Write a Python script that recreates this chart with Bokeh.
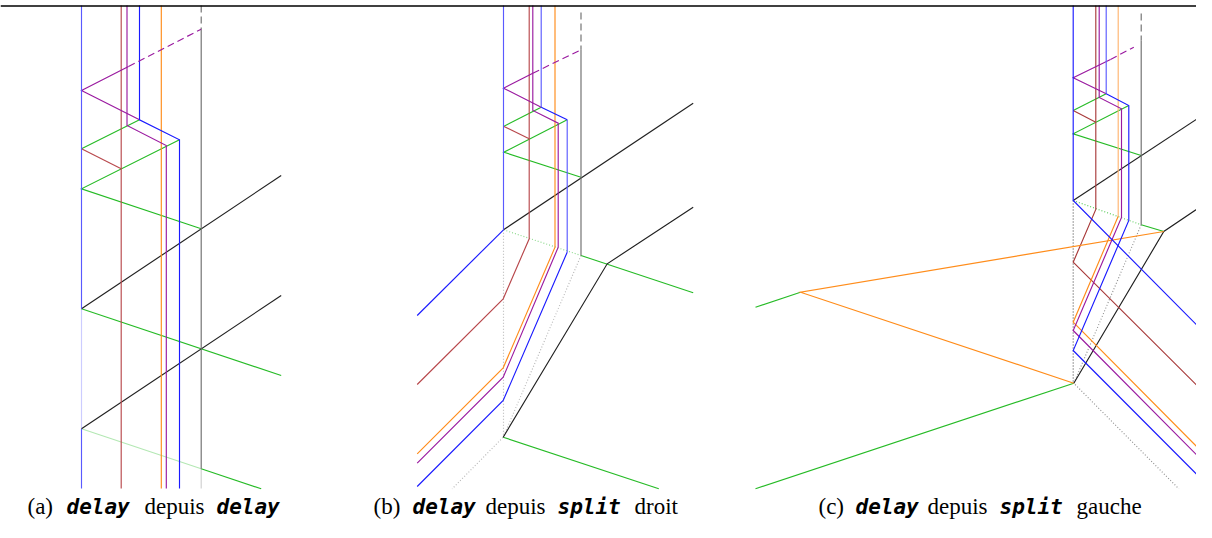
from bokeh.plotting import figure
from bokeh.models import Range1d
from bokeh.embed import file_html
from bokeh.resources import INLINE
from bokeh.core.properties import value

# ---------------- data: polylines (page pixel coordinates) ----------------
TOP_LINE_X = [0, 1212]
TOP_LINE_Y = [5.5, 5.5]

# ---- panel (a): delay depuis delay
A_BLUE_L = [[(81, 5), (81, 308.3)], [(81, 428.3), (81, 488)]]
A_BLUE_XL = [[(81, 308.3), (81, 428.3)]]
A_BLUE = [[(139, 5), (139, 119.3), (179, 139.3), (179, 488)]]
A_BROWN = [[(120.7, 5), (120.7, 488)], [(81, 148.3), (120.7, 168.3)]]
A_PURPLE = [[(126.5, 5), (126.5, 125), (165.8, 145), (165.8, 488)],
            [(139, 119.3), (81, 90), (128, 66)]]
A_PURPLE_DASH = [[(128, 66), (200.7, 28.7)]]
A_ORANGE = [[(160.8, 5), (160.8, 488)]]
A_GRAY_DASH = [[(200.7, 5), (200.7, 28.7)]]
A_GRAY = [[(200.7, 28.7), (200.7, 468.3)]]
A_GRAY_L = [[(200.7, 468.3), (200.7, 488)]]
A_GREEN = [[(81, 148.3), (139, 119.3)],
           [(179, 139.3), (81, 188.3), (200.7, 228.3)],
           [(81, 308.3), (280.7, 375)],
           [(200.7, 468.3), (260.7, 488.3)]]
A_GREEN_L = [[(81, 428.3), (200.7, 468.3)]]
A_BLACK = [[(81, 308.3), (280.7, 175)], [(81, 428.3), (280.7, 295)]]

# ---- panel (b): delay depuis split droit
B_BLUE_L = [[(503, 5), (503, 229.3)], [(540.7, 5), (540.7, 106.7)],
            [(566.7, 119.3), (566.7, 251.7)]]
B_BLUE = [[(540.7, 106.7), (566.7, 119.3)], [(503, 229.3), (416.7, 315)],
          [(566.7, 251.7), (502.7, 400), (416.7, 486)]]
B_BROWN = [[(528.7, 5), (528.7, 238.3), (502.7, 298.3), (416.7, 384)],
           [(503, 125.7), (528.7, 138.3)]]
B_PURPLE = [[(532.3, 5), (532.3, 110), (557.7, 122.7), (557.7, 246.7), (502.7, 376.7), (416.7, 462.7)],
            [(540.7, 106.7), (503, 87.7), (532.3, 72.7)]]
B_PURPLE_DASH = [[(532.3, 72.7), (580.5, 49.3)]]
B_ORANGE = [[(554.5, 5), (554.5, 246.7), (502.7, 367.3), (416.7, 453.3)]]
B_GRAY_DASH = [[(580.5, 12), (580.5, 49.3)]]
B_GRAY = [[(580.5, 49.3), (580.5, 255)]]
B_GRAY_DOT = [[(580.5, 255), (502.7, 436.7), (451.7, 488.3)], [(503, 229.3), (503, 436.7)]]
B_GREEN = [[(503, 126), (540.7, 106.7)],
           [(566.7, 119.3), (503.3, 151.7), (580.5, 176.7)],
           [(580.5, 255), (692.7, 292.3)],
           [(502.7, 436.7), (658.3, 488.3)]]
B_GREEN_DOT = [[(503, 229.3), (580.5, 255)]]
B_BLACK = [[(503, 229.3), (692.7, 102.7)],
           [(692.7, 206.7), (606.7, 263.3), (502.7, 436.7)]]

# ---- panel (c): delay depuis split gauche
C_BLUE = [[(1072.7, 5), (1072.7, 200), (1208.3, 336.7)],
          [(1105.7, 93.3), (1128.3, 105), (1128.3, 220), (1072.7, 350), (1208.3, 486)]]
C_BLUE_L = [[(1105.7, 5), (1105.7, 93.3)]]
C_BROWN = [[(1095.3, 5), (1095.3, 209), (1072.7, 261.7), (1208.3, 396.7)],
           [(1072.7, 110), (1095.3, 121.7)]]
C_PURPLE = [[(1098.7, 5), (1098.7, 97), (1121, 108.3), (1121, 217), (1072.7, 330), (1208.3, 466.7)],
            [(1105.7, 93.3), (1072.7, 77.3), (1110, 59)]]
C_PURPLE_DASH = [[(1110, 59), (1133.3, 46.7)]]
C_ORANGE_L = [[(1117.7, 5), (1117.7, 215.7)]]
C_ORANGE = [[(1117.7, 215.7), (1072.7, 321.7), (1208.3, 458.3)],
            [(1163.3, 231), (800, 291.7), (1073.3, 382.7)]]
C_GRAY_DASH = [[(1140.7, 13), (1140.7, 40)]]
C_GRAY = [[(1140.7, 40), (1140.7, 224.3)]]
C_GRAY_DOT = [[(1140.7, 224.3), (1073.3, 382.7), (1178.3, 488.3)]]
C_DARK_DOT = [[(1072.7, 200), (1072.7, 382.7)]]
C_GREEN = [[(1072.7, 110), (1105.7, 93.3)],
           [(1128.3, 105), (1072.7, 133.3), (1140.7, 155)],
           [(1140.7, 224.3), (1163.3, 231)],
           [(755, 306.7), (800, 291.7)],
           [(1073.3, 382.7), (755, 488.3)]]
C_GREEN_DOT = [[(1072.7, 200), (1140.7, 224.3)]]
C_BLACK = [[(1072.7, 200), (1209.3, 110)],
           [(1209.3, 200), (1163.3, 231), (1073.3, 382.7)]]

# ---- captions
CAP_TEXT = ["(a)", "delay", "depuis", "delay",
            "(b)", "delay", "depuis", "split", "droit",
            "(c)", "delay", "depuis", "split", "gauche"]
CAP_X = [27, 66, 144, 216,
         373, 412, 485, 557, 634,
         818, 855, 927, 999, 1076]
CAP_MONO = [False, True, False, True,
            False, True, False, True, False,
            False, True, False, True, False]
CAP_Y = 506

# ---------------- figure ----------------
W, H = 1196, 522
p = figure(width=W, height=H, output_backend="svg", toolbar_location=None,
           x_range=Range1d(0, W), y_range=Range1d(H, 0),
           x_axis_location=None, y_axis_location=None, min_border=0)
p.grid.visible = False
p.outline_line_color = None
p.background_fill_color = "white"
p.border_fill_color = "white"


def draw(segs, color, dash="solid", alpha=1.0, width=1.15):
    xs = [[pt[0] for pt in s] for s in segs]
    ys = [[pt[1] for pt in s] for s in segs]
    p.multi_line(xs, ys, line_color=color, line_dash=dash, line_alpha=alpha,
                 line_width=width, line_join="miter")


BLUE = "#1a1aff"
BLUE_L = "#5a5aff"
BLUE_XL = "#ccccff"
BROWN = "#b8484c"
PURPLE = "#9a1aa0"
ORANGE = "#ff8c1a"
ORANGE_L = "#ffb570"
GRAY = "#6e6e6e"
GRAY_L = "#d0d0d0"
GREEN = "#26bb26"
GREEN_L = "#b4e8b4"
BLACK = "#202020"

# faint / dotted first
draw(A_BLUE_XL, BLUE_XL)
draw(A_GREEN_L, GREEN_L)
draw(A_GRAY_L, GRAY_L)
draw(B_GRAY_DOT, "#b8b8b8", "1 2")
draw(B_GREEN_DOT, "#8ad88a", "1 2")
draw(C_GRAY_DOT, "#909090", "1 2")
draw(C_DARK_DOT, "#505050", "1 2")
draw(C_GREEN_DOT, "#5ccc5c", "1 2")

for segs, col in [(A_GREEN, GREEN), (B_GREEN, GREEN), (C_GREEN, GREEN),
                  (A_BLACK, BLACK), (B_BLACK, BLACK), (C_BLACK, BLACK),
                  (A_GRAY, GRAY), (B_GRAY, GRAY), (C_GRAY, GRAY),
                  (A_BROWN, BROWN), (B_BROWN, BROWN), (C_BROWN, "#a83a3a"),
                  (A_ORANGE, ORANGE), (B_ORANGE, ORANGE), (C_ORANGE, ORANGE),
                  (C_ORANGE_L, ORANGE_L),
                  (A_PURPLE, PURPLE), (B_PURPLE, PURPLE), (C_PURPLE, PURPLE),
                  (A_BLUE_L, BLUE_L), (B_BLUE_L, BLUE_L), (C_BLUE_L, BLUE_L),
                  (A_BLUE, BLUE), (B_BLUE, BLUE), (C_BLUE, BLUE)]:
    draw(segs, col)

for segs in (A_PURPLE_DASH, B_PURPLE_DASH, C_PURPLE_DASH):
    draw(segs, PURPLE, "7 4")
for segs in (A_GRAY_DASH, B_GRAY_DASH, C_GRAY_DASH):
    draw(segs, GRAY, "7 4")

p.line(TOP_LINE_X, TOP_LINE_Y, line_color="black", line_width=1.3)

mono_idx = [i for i, m in enumerate(CAP_MONO) if m]
serif_idx = [i for i, m in enumerate(CAP_MONO) if not m]
p.text(x=[CAP_X[i] for i in serif_idx], y=[CAP_Y] * len(serif_idx),
       text=[CAP_TEXT[i] for i in serif_idx],
       text_font=value("Liberation Serif"), text_font_size="23px",
       text_baseline="middle", text_align="left", text_color="black")
p.text(x=[CAP_X[i] for i in mono_idx], y=[CAP_Y] * len(mono_idx),
       text=[CAP_TEXT[i] for i in mono_idx],
       text_font=value("DejaVu Sans Mono"), text_font_size="21px",
       text_font_style="bold italic",
       text_baseline="middle", text_align="left", text_color="black")

open("out.html", "w").write(file_html(p, INLINE))
